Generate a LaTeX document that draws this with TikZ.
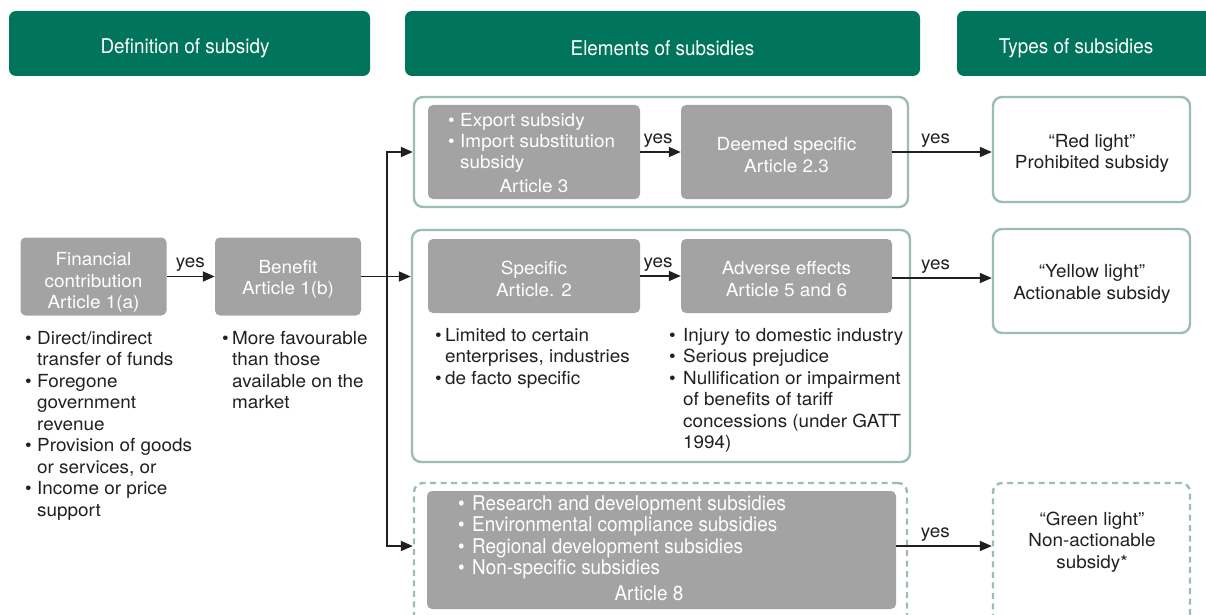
\documentclass[tikz,border=0pt]{standalone}
\usepackage{fontspec}
\setmainfont[FakeStretch=1.05]{TeX Gyre Heros}
\newfontfamily\condf[FakeStretch=0.93]{TeX Gyre Heros}
\usetikzlibrary{arrows.meta}
\definecolor{hdr}{RGB}{0,117,91}
\definecolor{sage}{RGB}{155,190,174}
\definecolor{gboxc}{RGB}{163,163,163}
\definecolor{ink}{RGB}{35,31,32}
\newcommand{\bt}{\fontsize{18}{21.5}\selectfont}
\newcommand{\ct}{\condf\fontsize{20.3}{21.6}\selectfont}
\newcommand{\bu}[1][5pt]{\leavevmode\llap{•\hspace{#1}}}
\newcommand{\lst}[2]{\parbox[t]{#1}{\raggedright\bt #2}}
\tikzset{
  hdrbox/.style={fill=hdr, rounded corners=7pt, inner sep=0pt, minimum height=65pt},
  htxt/.style={inner sep=0pt, text=white, font=\ct},
  gbox/.style={fill=gboxc, rounded corners=5pt, inner sep=0pt},
  gtxt/.style={inner sep=0pt, text=white, font=\bt, align=center},
  frame/.style={draw=sage, line width=2.4pt, rounded corners=9pt, inner sep=0pt},
  dframe/.style={frame, dash pattern=on 6pt off 4.5pt},
  txt/.style={inner sep=0pt, text=ink},
  ctxt/.style={inner sep=0pt, text=ink, font=\bt, align=center},
  yes/.style={anchor=base, inner sep=0pt, yshift=9pt, font=\bt, text=ink},
  arr/.style={draw=ink, line width=1.8pt, -{Triangle[length=12pt,width=10pt]}}
}
\begin{document}
\begin{tikzpicture}[x=1pt,y=-1pt]
\useasboundingbox (0,0) rectangle (1206,615);
\clip (0,0) rectangle (1206,615);
% headers
\node[hdrbox, minimum width=361pt] (h1) at (189.5,43.5) {};
\node[hdrbox, minimum width=515pt] (h2) at (662.5,43.5) {};
\node[hdrbox, minimum width=263pt] (h3) at (1088.5,43.5) {};
\node[htxt] (h1t) at (185,48.5) {Definition of subsidy};
\node[htxt] (h2t) at (662.5,48.5) {Elements of subsidies};
\node[htxt] (h3t) at (1076,48.5) {Types of subsidies};
% frames
\node[frame, minimum width=494pt, minimum height=110pt] (r1) at (661,152) {};
\node[frame, minimum width=498pt, minimum height=232pt] (r2) at (661,346) {};
\node[dframe, minimum width=493pt, minimum height=142pt] (r3) at (660.5,554) {};
% gray boxes
\node[gbox, minimum width=212pt, minimum height=94pt] (A) at (534,152) {};
\node[gbox, minimum width=211pt, minimum height=94pt] (B) at (786.5,152) {};
\node[gbox, minimum width=212pt, minimum height=74pt] (C) at (534,276) {};
\node[gbox, minimum width=211pt, minimum height=74pt] (D) at (786.5,276) {};
\node[gbox, minimum width=146pt, minimum height=78pt] (E) at (93.5,276.5) {};
\node[gbox, minimum width=146pt, minimum height=78pt] (F) at (288,276.5) {};
\node[gbox, minimum width=469pt, minimum height=118pt] (G) at (661.5,550) {};
\node[gtxt] (Bt) at ([yshift=-3pt]B.center) {Deemed specific\\Article 2.3};
\node[gtxt] (Ct) at ([yshift=-3pt]C.center) {Specific\\Article. 2};
\node[gtxt] (Dt) at ([yshift=-3pt]D.center) {Adverse effects\\Article 5 and 6};
\node[gtxt] (Et) at ([yshift=-6pt]E.center) {Financial\\contribution\\Article 1(a)};
\node[gtxt] (Ft) at ([yshift=-3pt]F.center) {Benefit\\Article 1(b)};
% texts inside A and G
\node[txt, text=white, anchor=base west] (At) at (460,126) {\lst{200pt}{\bu[5.5pt]Export subsidy\\ \bu[5.5pt]Import substitution\\ subsidy}};
\node[txt, text=white, anchor=base, font=\bt] (A3) at (534,192) {Article 3};
\node[txt, text=white, anchor=base west] (Gt) at (472,510) {\parbox[t]{400pt}{\raggedright\ct \bu[7.5pt]Research and development subsidies\\ \bu[7.5pt]Environmental compliance subsidies\\ \bu[7.5pt]Regional development subsidies\\ \bu[7.5pt]Non-specific subsidies}};
\node[txt, text=white, anchor=base, font=\ct] (G8) at (649,600) {Article 8};
% lists
\node[txt, anchor=base west] (El) at (37,344) {\lst{170pt}{\bu[5.5pt]Direct/indirect\\ transfer of funds\\ \bu[5.5pt]Foregone\\ government\\ revenue\\ \bu[5.5pt]Provision of goods\\ or services, or\\ \bu[5.5pt]Income or price\\ support}};
\node[txt, anchor=base west] (Fl) at (232,344) {\lst{150pt}{\bu[3.5pt]More favourable\\ than those\\ available on the\\ market}};
\node[txt, anchor=base west] (Cl) at (445,341) {\lst{220pt}{\bu[3.5pt]Limited to certain\\ enterprises, industries\\ \bu[3.5pt]de facto specific}};
\node[txt, anchor=base west] (Dl) at (683,341) {\lst{230pt}{\bu[7.5pt]Injury to domestic industry\\ \bu[7.5pt]Serious prejudice\\ \bu[7.5pt]Nullification or impairment\\ of benefits of tariff\\ concessions (under GATT\\ 1994)}};
% result boxes
\node[frame, minimum width=197pt, minimum height=105pt] (Red) at (1091.5,149.5) {};
\node[frame, minimum width=197pt, minimum height=104pt] (Yel) at (1091.5,281) {};
\node[dframe, minimum width=197pt, minimum height=142pt] (Grn) at (1091.5,554) {};
\node[ctxt] (Redt) at (1092,153.5) {“Red light”\\Prohibited subsidy};
\node[ctxt] (Yelt) at (1092,284) {“Yellow light”\\Actionable subsidy};
\node[ctxt] (Grnt) at (1092,542) {“Green light”\\Non-actionable\\subsidy*};
% connectors
\draw[arr] (E) -- node[yes,pos=0.49]{yes} (F);
\draw[arr] (F.east) -- (F.east -| r2.west);
\coordinate (jn) at (387,276.5);
\draw[arr] (jn) |- (r1.west);
\draw[arr] (jn) |- ([yshift=8pt]r3.west);
\draw[arr] (A) -- node[yes,pos=0.44]{yes} (B);
\draw[arr] (C) -- node[yes,pos=0.44]{yes} (D);
\draw[arr] (B.east) -- node[yes,pos=0.436]{yes} (B.east -| Red.west);
\draw[arr] ([yshift=-2pt]D.east) -- node[yes,pos=0.436]{yes} ([yshift=-2pt]D.east -| Yel.west);
\draw[arr] ([yshift=4pt]G.east) -- node[yes,pos=0.41]{yes} ([yshift=4pt]G.east -| Grn.west);
\end{tikzpicture}
\end{document}
